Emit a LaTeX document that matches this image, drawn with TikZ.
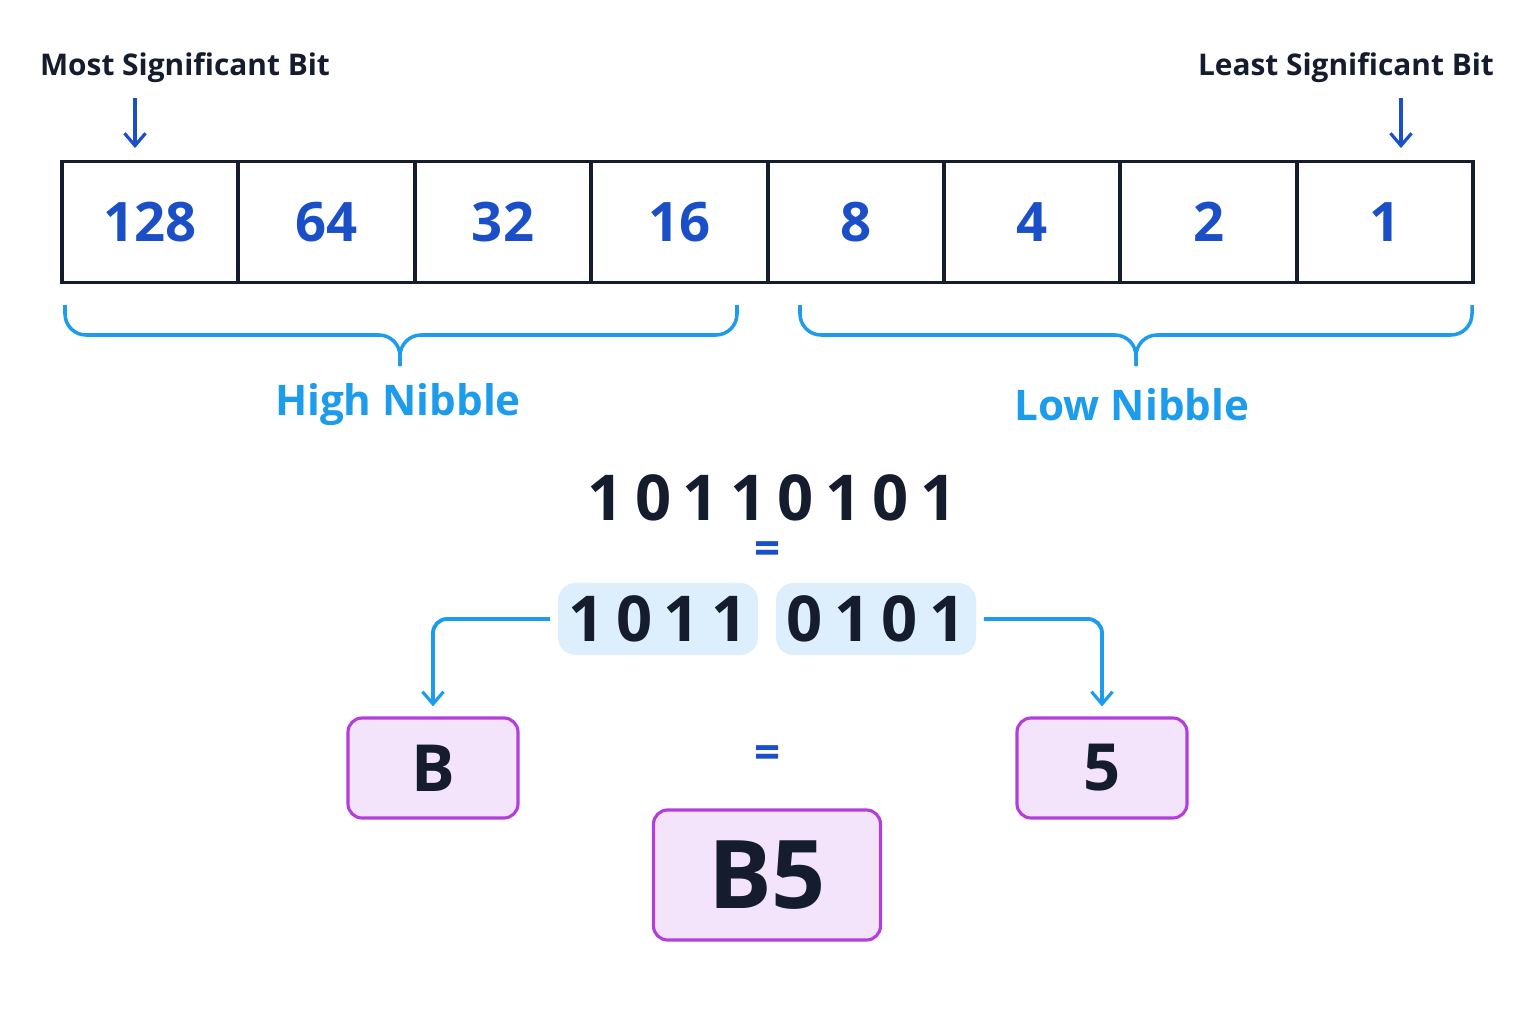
\documentclass[tikz,border=0pt]{standalone}
\usepackage{fontspec}
\setmainfont{Open Sans}
\usepackage{tikz}
\usetikzlibrary{arrows.meta}
\definecolor{navy}{HTML}{141C2E}
\definecolor{bitblue}{HTML}{1A4FC8}
\definecolor{skyblue}{HTML}{1C9CEA}
\definecolor{paleblue}{HTML}{DDEFFC}
\definecolor{purp}{HTML}{B23FDB}
\definecolor{palepurp}{HTML}{F4E4FB}
\tikzset{
  cell/.style={draw=navy,line width=2.2pt,minimum width=176.4*0.02cm,minimum height=121*0.02cm,inner sep=0pt,font={\fontsize{31}{34}\selectfont\bfseries},text=bitblue},
  note/.style={font={\fontsize{17}{20}\selectfont\bfseries},text=navy},
  nib/.style={font={\fontsize{24}{28}\selectfont\bfseries},text=skyblue},
  bits/.style={inner sep=0pt,font={\fontsize{36}{40}\selectfont\bfseries\addfontfeature{LetterSpace=18}},text=navy},
  half/.style={bits,fill=paleblue,rounded corners=10pt,minimum width=200*0.02cm,minimum height=72*0.02cm,inner sep=0pt},
  hexbox/.style={draw=purp,fill=palepurp,line width=1.8pt,rounded corners=8pt,inner sep=0pt,text=navy,font={\fontsize{37}{40}\selectfont\bfseries}},
  eq/.style={inner sep=0pt,font={\fontsize{26}{28}\selectfont\bfseries},text=bitblue},
  arr/.style={-{Straight Barb[length=7pt,width=12pt,line width=1.8pt]},line width=2.2pt}
}
\begin{document}
\begin{tikzpicture}[x=0.02cm,y=-0.02cm]
\useasboundingbox (0,0) rectangle (1536,1024);

% bit cells
\foreach \v [count=\i from 0] in {128,64,32,16,8,4,2,1}
  \node[cell] (c\i) at (62+88.2+176.4*\i,222) {\v};

% labels and arrows
\node[note] (msb) at (185,68) {Most Significant Bit};
\node[note] (lsb) at (1346,68) {Least Significant Bit};
\coordinate (msbtop) at (135,98);
\coordinate (msbend) at (135,148);
\coordinate (lsbtop) at (1401,98);
\coordinate (lsbend) at (1401,148);
\draw[arr,bitblue] (msbtop) -- (msbend);
\draw[arr,bitblue] (lsbtop) -- (lsbend);

% braces
\draw[skyblue,line width=2pt,rounded corners=12pt] (65,305) |- (400,335) -- (400,366);
\draw[skyblue,line width=2pt,rounded corners=12pt] (400,366) -- (400,335) -| (737,305);
\draw[skyblue,line width=2pt,rounded corners=12pt] (800,305) |- (1136,335) -- (1136,366);
\draw[skyblue,line width=2pt,rounded corners=12pt] (1136,366) -- (1136,335) -| (1472,305);
\node[nib] (high) at (398,405) {High Nibble};
\node[nib] (low) at (1132,405) {Low Nibble};

% binary split
\node[bits] (byte) at (772,498) {10110101};
\node[eq] (eq1) at (768,553) {=};
\node[half] (hi) at (658,619) {1011};
\node[half] (lo) at (876,619) {0101};

% hex digits
\node[hexbox,minimum width=170*0.02cm,minimum height=100*0.02cm] (B) at (433,768) {B};
\node[hexbox,minimum width=170*0.02cm,minimum height=100*0.02cm] (five) at (1102,768) {5};
\node[eq] (eq2) at (768,757) {=};
\node[hexbox,minimum width=227*0.02cm,minimum height=130*0.02cm,font={\fontsize{54}{58}\selectfont\bfseries}] (B5) at (767,875) {B5};

\draw[arr,skyblue,rounded corners=8pt] ([xshift=-0.15cm]hi.west) -| ([yshift=0.2cm]B.north);
\draw[arr,skyblue,rounded corners=8pt] ([xshift=0.15cm]lo.east) -| ([yshift=0.2cm]five.north);
\end{tikzpicture}
\end{document}
